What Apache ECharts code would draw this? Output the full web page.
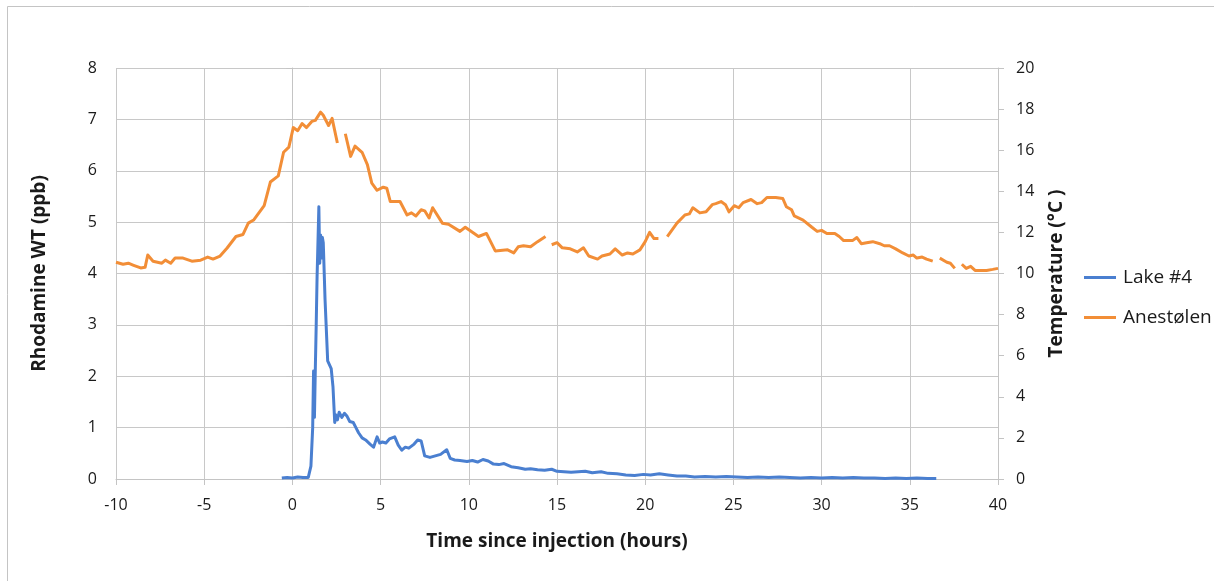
<!DOCTYPE html>
<html>
<head>
<meta charset="utf-8">
<script src="https://cdn.jsdelivr.net/npm/echarts@6/dist/echarts.min.js"></script>
<style>
html,body{margin:0;padding:0;background:#fff;}
#c{width:1214px;height:581px;}
</style>
</head>
<body>
<div id="c"></div>
<script>
// ---- Data ----
const xTicks = [-10, -5, 0, 5, 10, 15, 20, 25, 30, 35, 40];
const leftTicks = [0, 1, 2, 3, 4, 5, 6, 7, 8];
const rightTicks = [0, 2, 4, 6, 8, 10, 12, 14, 16, 18, 20];

// Lake #4 — Rhodamine WT (ppb), left axis
const lakeTime = [-0.6,-0.3,0.0,0.3,0.6,0.9,1.05,1.15,1.2,1.25,1.3,1.35,1.4,1.5,1.55,1.6,1.65,1.7,1.75,1.85,2.0,2.1,2.2,2.3,2.4,2.45,2.55,2.65,2.8,2.95,3.1,3.25,3.45,3.6,3.75,3.95,4.15,4.4,4.6,4.8,4.95,5.1,5.3,5.5,5.8,6.0,6.2,6.4,6.6,6.9,7.1,7.3,7.5,7.8,8.1,8.4,8.75,8.95,9.2,9.5,9.9,10.2,10.5,10.8,11.1,11.4,11.7,12.0,12.4,12.8,13.2,13.5,13.9,14.3,14.7,15.0,15.4,15.8,16.2,16.6,17.0,17.5,17.9,18.4,18.9,19.4,19.9,20.3,20.8,21.3,21.8,22.3,22.8,23.4,24.0,24.6,25.2,25.8,26.4,27.0,27.6,28.2,28.8,29.4,30.0,30.6,31.2,31.8,32.4,33.0,33.6,34.2,34.8,35.4,36.0,36.5];
const lakeValue = [0.02,0.03,0.02,0.04,0.03,0.03,0.25,1.0,2.1,1.2,2.15,3.0,3.95,5.3,4.2,4.75,4.3,4.7,4.6,3.5,2.3,2.3,2.15,1.8,1.1,1.25,1.15,1.3,1.2,1.28,1.22,1.12,1.1,1.0,0.9,0.8,0.76,0.68,0.62,0.82,0.7,0.72,0.7,0.78,0.82,0.66,0.56,0.62,0.6,0.68,0.76,0.74,0.45,0.42,0.45,0.48,0.57,0.4,0.37,0.36,0.34,0.36,0.33,0.38,0.35,0.29,0.28,0.3,0.24,0.22,0.19,0.2,0.18,0.17,0.19,0.15,0.14,0.13,0.14,0.15,0.12,0.14,0.11,0.1,0.08,0.07,0.09,0.08,0.1,0.08,0.06,0.06,0.04,0.05,0.04,0.05,0.04,0.03,0.04,0.03,0.04,0.03,0.02,0.03,0.02,0.03,0.02,0.03,0.02,0.02,0.01,0.02,0.01,0.02,0.01,0.01];

// Anestølen — Temperature (°C), right axis (null = gap in record)
const aneTime = [-10,-9.6,-9.3,-9.0,-8.6,-8.35,-8.2,-7.9,-7.4,-7.2,-6.9,-6.65,-6.2,-5.7,-5.2,-4.8,-4.5,-4.1,-3.7,-3.2,-2.8,-2.5,-2.2,-1.6,-1.25,-0.8,-0.5,-0.2,0.05,0.3,0.55,0.8,1.1,1.3,1.6,1.75,2.05,2.25,2.55,2.8,3.0,3.3,3.55,3.95,4.25,4.5,4.8,5.15,5.35,5.55,5.9,6.1,6.5,6.75,7.0,7.3,7.5,7.75,7.95,8.5,8.85,9.5,9.8,10.55,11.0,11.5,12.2,12.55,12.8,13.1,13.5,13.9,14.35,14.5,14.7,15.0,15.3,15.75,16.15,16.5,16.8,17.3,17.55,18.0,18.3,18.7,19.0,19.3,19.7,20.0,20.25,20.5,20.75,21.0,21.25,21.8,22.25,22.5,22.7,23.1,23.45,23.8,24.0,24.3,24.55,24.75,25.05,25.3,25.55,26.0,26.35,26.6,26.9,27.4,27.8,28.0,28.3,28.45,28.95,29.45,29.75,30.0,30.3,30.75,31.0,31.25,31.75,32.0,32.25,32.55,32.9,33.3,33.55,33.85,34.2,34.6,34.95,35.2,35.4,35.7,35.95,36.3,36.5,36.7,37.1,37.3,37.55,37.75,37.95,38.2,38.45,38.7,39.35,39.7,40.0];
const aneTemp = [10.55,10.45,10.5,10.4,10.27,10.3,10.9,10.6,10.5,10.65,10.5,10.75,10.75,10.6,10.65,10.8,10.7,10.85,11.24,11.8,11.9,12.45,12.6,13.3,14.45,14.75,15.9,16.15,17.1,16.95,17.3,17.1,17.4,17.45,17.85,17.7,17.2,17.55,16.35,null,16.8,15.7,16.2,15.9,15.3,14.4,14.05,14.2,14.15,13.5,13.5,13.5,12.85,12.95,12.8,13.1,13.05,12.7,13.2,12.45,12.4,12.05,12.25,11.8,11.95,11.1,11.15,11.0,11.3,11.35,11.3,11.55,11.8,null,11.4,11.5,11.25,11.2,11.05,11.25,10.85,10.7,10.85,10.95,11.2,10.9,11.0,10.95,11.15,11.55,12.0,11.7,11.7,null,11.8,12.45,12.85,12.9,13.2,12.95,13.0,13.35,13.4,13.5,13.35,13.0,13.3,13.2,13.45,13.6,13.4,13.45,13.7,13.7,13.65,13.25,13.1,12.8,12.6,12.25,12.05,12.1,11.95,11.95,11.8,11.6,11.6,11.75,11.45,11.5,11.55,11.45,11.35,11.35,11.2,11.0,10.85,10.9,10.75,10.8,10.7,10.6,null,10.75,10.55,10.5,10.25,null,10.45,10.25,10.35,10.15,10.15,10.2,10.25];

const lakeData = lakeTime.map((t, i) => [t, lakeValue[i]]);
const aneData = aneTime.map((t, i) => [t, aneTemp[i]]);

const FONT = '"Open Sans", "Liberation Sans", sans-serif';
const chart = echarts.init(document.getElementById('c'), null, {renderer: 'canvas'});
chart.setOption({
  animation: false,
  backgroundColor: '#ffffff',
  graphic: [{
    type: 'rect', silent: true, z: -10,
    shape: {x: 7.5, y: 6.5, width: 1220, height: 590},
    style: {fill: 'none', stroke: '#c4c4c4', lineWidth: 1}
  }],
  grid: {left: 116, right: 216, top: 68, bottom: 102, containLabel: false},
  legend: {
    orient: 'vertical',
    left: 1079, top: 263,
    itemWidth: 32, itemHeight: 3, itemGap: 21,
    icon: 'rect',
    textStyle: {fontFamily: FONT, fontSize: 19, color: '#1a1a1a', padding: [0,0,0,2]},
    data: ['Lake #4', 'Anestølen']
  },
  xAxis: {
    type: 'value', min: -10, max: 40, interval: 5,
    name: 'Time since injection (hours)', nameLocation: 'middle', nameGap: 53,
    nameTextStyle: {fontFamily: FONT, fontSize: 19, fontWeight: 'bold', color: '#1a1a1a'},
    axisLine: {show: true, onZero: false, lineStyle: {color: '#c4c4c4', width: 1}},
    axisTick: {show: true, length: 6, lineStyle: {color: '#c4c4c4'}},
    axisLabel: {fontFamily: FONT, fontSize: 16, color: '#1a1a1a', margin: 18,
      formatter: v => xTicks.includes(v) ? String(v) : ''},
    splitLine: {show: true, lineStyle: {color: '#c8c8c8', width: 1}}
  },
  yAxis: [{
    type: 'value', min: 0, max: 8, interval: 1, position: 'left',
    name: 'Rhodamine WT (ppb)', nameLocation: 'middle', nameGap: 67, nameRotate: 90,
    nameTextStyle: {fontFamily: FONT, fontSize: 19, fontWeight: 'bold', color: '#1a1a1a'},
    axisLine: {show: true, lineStyle: {color: '#c4c4c4', width: 1}},
    axisTick: {show: true, length: 6, lineStyle: {color: '#c4c4c4'}},
    axisLabel: {fontFamily: FONT, fontSize: 16, color: '#1a1a1a', margin: 19,
      formatter: v => leftTicks.includes(v) ? String(v) : ''},
    splitLine: {show: true, lineStyle: {color: '#c8c8c8', width: 1}}
  }, {
    type: 'value', min: 0, max: 20, interval: 2, position: 'right',
    name: 'Temperature (°C )', nameLocation: 'middle', nameGap: 49, nameRotate: 90,
    nameTextStyle: {fontFamily: FONT, fontSize: 19, fontWeight: 'bold', color: '#1a1a1a'},
    axisLine: {show: true, lineStyle: {color: '#c4c4c4', width: 1}},
    axisTick: {show: true, length: 6, lineStyle: {color: '#c4c4c4'}},
    axisLabel: {fontFamily: FONT, fontSize: 16, color: '#1a1a1a', margin: 18,
      formatter: v => rightTicks.includes(v) ? String(v) : ''},
    splitLine: {show: false}
  }],
  series: [{
    name: 'Lake #4', type: 'line', yAxisIndex: 0,
    data: lakeData, showSymbol: false, symbol: 'none',
    lineStyle: {color: '#4a7fd0', width: 3, join: 'round'},
    itemStyle: {color: '#4a7fd0'}, z: 3
  }, {
    name: 'Anestølen', type: 'line', yAxisIndex: 1,
    data: aneData, showSymbol: false, symbol: 'none', connectNulls: false,
    lineStyle: {color: '#f28e37', width: 3, join: 'round'},
    itemStyle: {color: '#f28e37'}, z: 2
  }]
});
</script>
</body>
</html>
